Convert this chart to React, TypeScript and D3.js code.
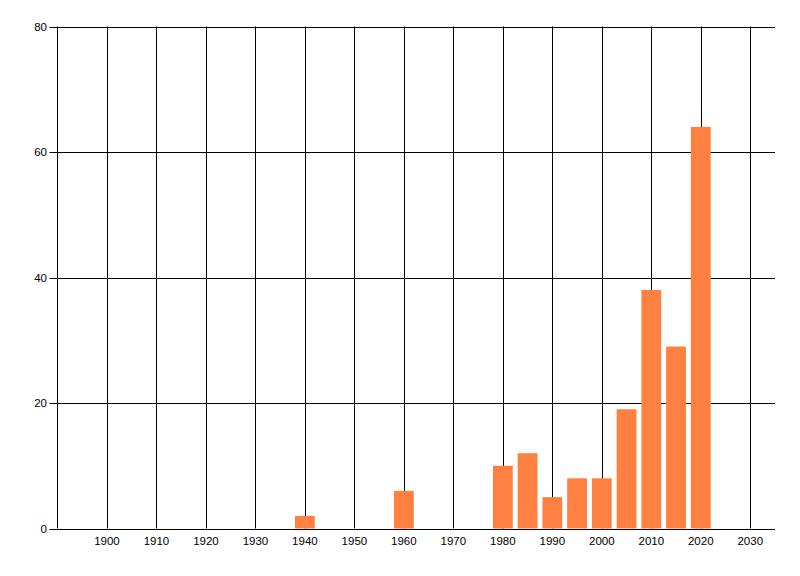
import React from "react";
import * as d3 from "d3";

const years = [1940, 1960, 1980, 1985, 1990, 1995, 2000, 2005, 2010, 2015, 2020];
const counts = [2, 6, 10, 12, 5, 8, 8, 19, 38, 29, 64];
const xTicks = [1900, 1910, 1920, 1930, 1940, 1950, 1960, 1970, 1980, 1990, 2000, 2010, 2020, 2030];
const yTicks = [0, 20, 40, 60, 80];

export default function App() {
  const W = 800, H = 576;
  const left = 57.5, right = 775, top = 26.5, bottom = 528.5;
  const x = d3.scaleLinear().domain([1890, 2035]).range([left, right]);
  const y = d3.scaleLinear().domain([0, 80]).range([bottom, top]);
  const barW = x(1894) - x(1890);
  const font = "'Liberation Sans', Arial, sans-serif";
  return (
    <svg width={W} height={H} style={{ position: "absolute", left: 0, top: 0, background: "#fff" }}>
      {xTicks.map((t) => (
        <line key={"gx" + t} x1={Math.round(x(t)) + 0.5} x2={Math.round(x(t)) + 0.5} y1={top} y2={bottom} stroke="#000" strokeWidth={1} />
      ))}
      {yTicks.map((t) => (
        <line key={"gy" + t} x1={left - 8} x2={right} y1={Math.round(y(t)) + 0.5} y2={Math.round(y(t)) + 0.5} stroke="#000" strokeWidth={1} />
      ))}
      {years.map((yr, i) => (
        <rect key={yr} x={x(yr) - barW / 2} width={barW} y={y(counts[i])} height={y(0) - y(counts[i])} fill="#FF8040" />
      ))}
      <line x1={left} x2={left} y1={top} y2={bottom} stroke="#000" />
      <line x1={left} x2={right} y1={Math.round(y(0)) + 0.5} y2={Math.round(y(0)) + 0.5} stroke="#000" />
      {yTicks.map((t) => (
        <text key={"ly" + t} x={47} y={y(t)} dy="0.35em" textAnchor="end" fontFamily={font} fontSize={11.5} fill="#000">{t}</text>
      ))}
      {xTicks.map((t) => (
        <text key={"lx" + t} x={x(t)} y={545} textAnchor="middle" fontFamily={font} fontSize={11.5} fill="#000">{t}</text>
      ))}
    </svg>
  );
}
